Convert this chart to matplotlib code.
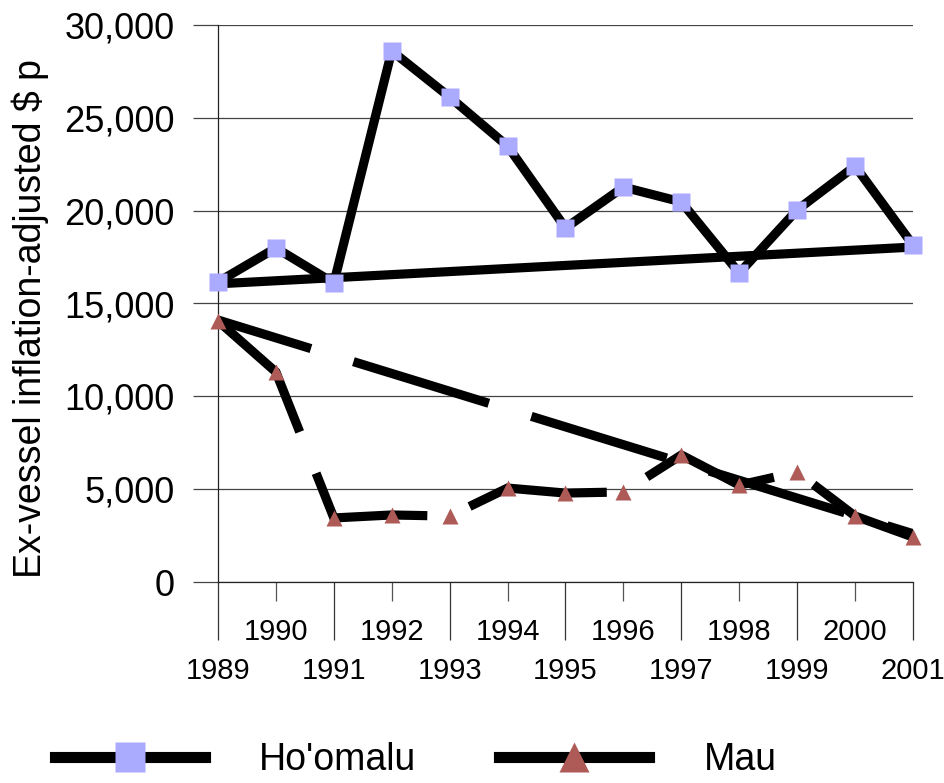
import matplotlib
matplotlib.use("Agg")
import matplotlib.pyplot as plt
from matplotlib.lines import Line2D
from matplotlib.ticker import FuncFormatter

plt.rcParams['font.family'] = ['Liberation Sans', 'DejaVu Sans']
plt.rcParams['lines.scale_dashes'] = False

# data
years = list(range(1989, 2002))
hoomalu = [16160, 17990, 16100, 28600, 26120, 23480, 19070, 21270, 20470, 16640, 20040, 22400, 18150]
mau = [14060, 11310, 3450, 3610, 3550, 5060, 4790, 4850, 6840, 5220, 5920, 3550, 2420]
hoomalu_trend = [16060, 18040]   # values at 1989 and 2001
mau_trend = [14110, 2600]

sq_color = '#AAAAFF'
tri_color = '#AE5B57'

fig = plt.figure(figsize=(9.45, 7.83), dpi=100)
ax = fig.add_axes([218 / 945, 1 - 582 / 783, 695 / 945, 557 / 783])

x = list(range(len(years)))
lw = 6.6
dash = (0, (102, 32))

# lines
ax.plot(x, hoomalu, color='k', lw=lw, solid_joinstyle='miter', zorder=3)
ax.plot([x[0], x[-1]], hoomalu_trend, color='k', lw=lw, solid_capstyle='butt', zorder=3)
ax.plot(x, mau, color='k', lw=lw, ls=dash, dash_capstyle='butt',
        dash_joinstyle='miter', zorder=3)
ax.plot([x[0], x[-1]], mau_trend, color='k', lw=lw, ls=(32, (102, 32)),
        dash_capstyle='butt', zorder=3)

# markers on top
ax.plot(x, hoomalu, ls='none', marker='s', ms=12.4, mfc=sq_color, mec='none',
        zorder=4, clip_on=False)
ax.plot(x, mau, ls='none', marker='^', ms=12, mfc=tri_color, mec='none',
        zorder=4, clip_on=False)

ax.set_xlim(0, 12)
ax.set_ylim(0, 30000)
ax.set_yticks(range(0, 30001, 5000))
ax.yaxis.set_major_formatter(FuncFormatter(lambda v, p: f"{int(v):,}"))
ax.grid(axis='y', color='#444444', lw=0.9)
ax.set_axisbelow(True)

for s in ['top', 'right']:
    ax.spines[s].set_visible(False)
ax.spines['left'].set_color('#222222')
ax.spines['bottom'].set_color('#222222')
ax.spines['left'].set_linewidth(0.9)
ax.spines['bottom'].set_linewidth(0.9)

# x ticks: odd years long ticks low, even years short ticks high
ax.set_xticks(x[0::2])
ax.set_xticklabels([str(y) for y in years[0::2]])
ax.set_xticks(x[1::2], minor=True)
ax.set_xticklabels([str(y) for y in years[1::2]], minor=True)
ax.tick_params(axis='x', which='major', length=41.8, width=0.9, color='#333333',
               pad=12, labelsize=21)
ax.tick_params(axis='x', which='minor', length=13.7, width=0.9, color='#555555',
               pad=12, labelsize=21)
ax.tick_params(axis='y', length=18, width=0.9, color='#444444', pad=13, labelsize=26)

fig.text(30 / 945, 1 - 318 / 783, "Ex-vessel inflation-adjusted $ p", rotation=90,
         ha='center', va='center', fontsize=27)

handles = [
    Line2D([], [], color='k', lw=8, marker='s', ms=22.3, mfc=sq_color, mec='none'),
    Line2D([], [], color='k', lw=8, marker='^', ms=22.3, mfc=tri_color, mec='none'),
]
fig.legend(handles, ["Ho'omalu", "Mau"], loc='center left',
           bbox_to_anchor=(55 / 945, 1 - 760 / 783), ncol=2, frameon=False,
           fontsize=27, handlelength=4.0, handletextpad=1.45, columnspacing=2.2,
           borderpad=0, borderaxespad=0)

fig.savefig("out.png", dpi=100)
